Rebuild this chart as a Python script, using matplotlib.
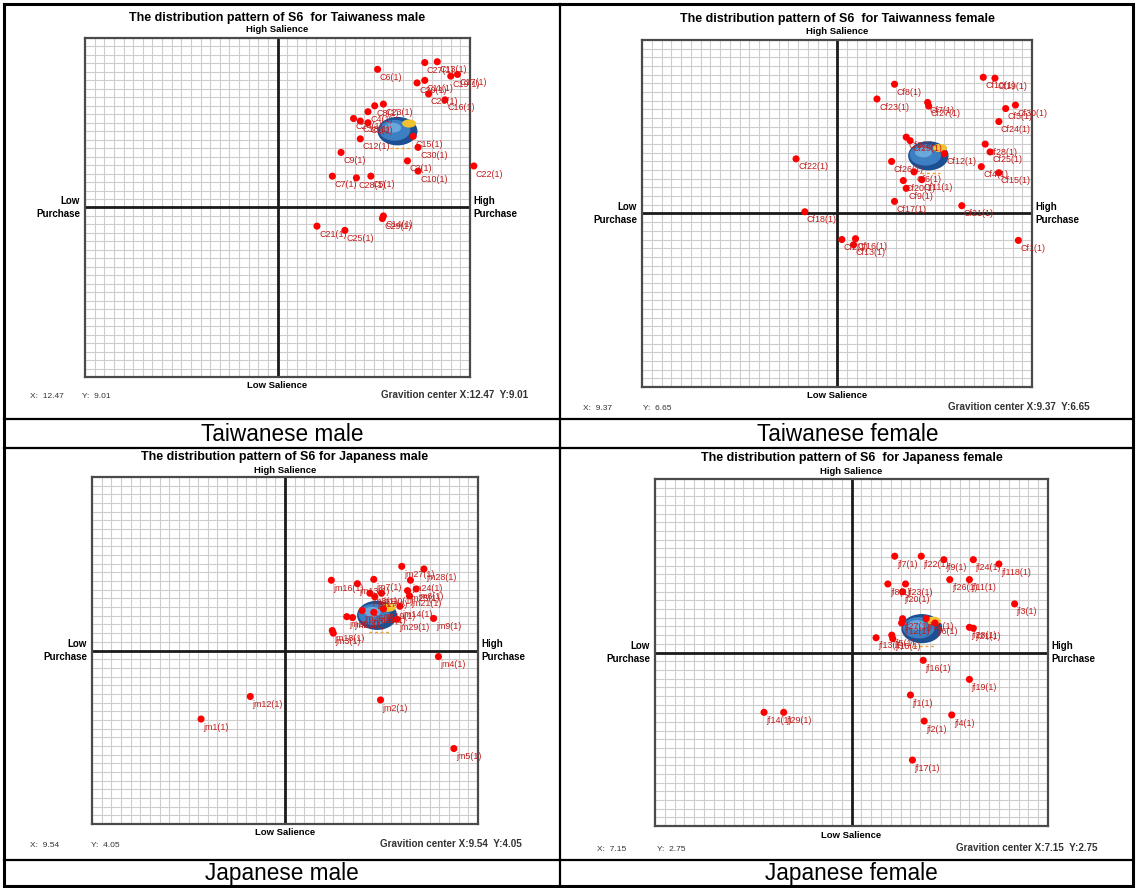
import numpy as np
import matplotlib
matplotlib.use("Agg")
import matplotlib.pyplot as plt
from matplotlib.patches import Ellipse

plt.rcParams['font.family'] = ['Liberation Sans', 'DejaVu Sans']

# ---------------- data ----------------
panel_titles = ["The distribution pattern of S6  for Taiwaness male",
                "The distribution pattern of S6  for Taiwanness female",
                "The distribution pattern of S6 for Japaness male",
                "The distribution pattern of S6  for Japaness female"]
group_names = ["Taiwanese male", "Taiwanese female", "Japanese male", "Japanese female"]
gravity_x = [12.47, 9.37, 9.54, 7.15]
gravity_y = [9.01, 6.65, 4.05, 2.75]

tm_labels = ["C6(1)", "C27(1)", "C13(1)", "C19(1)", "C17(1)", "C20(1)", "C11(1)", "C26(1)",
             "C16(1)", "C23(1)", "C8(1)", "C4(1)", "C24(1)", "C18(1)", "C1(1)", "C12(1)",
             "C15(1)", "C30(1)", "C2(1)", "C10(1)", "C9(1)", "C7(1)", "C28(1)", "C5(1)",
             "C22(1)", "C14(1)", "C29(1)", "C21(1)", "C25(1)"]
tm_x = [10.4, 15.3, 16.6, 18.0, 18.7, 14.5, 15.3, 15.7, 17.4, 11.0, 10.1, 9.4, 7.9, 8.6, 9.4,
        8.6, 14.1, 14.6, 13.5, 14.6, 6.6, 5.7, 8.2, 9.7, 20.4, 11.0, 10.9, 4.1, 7.0]
tm_y = [16.3, 17.1, 17.2, 15.5, 15.7, 14.7, 15.0, 13.4, 12.7, 12.2, 12.0, 11.3, 10.5, 10.2, 10.0,
        8.1, 8.4, 7.1, 5.5, 4.3, 6.5, 3.7, 3.5, 3.7, 4.9, -1.0, -1.3, -2.2, -2.7]

tf_labels = ["Cf10(1)", "Cf19(1)", "Cf8(1)", "Cf23(1)", "Cf7(1)", "Cf27(1)", "Cf5(1)", "Cf30(1)",
             "Cf24(1)", "Cf3(1)", "Cf29(1)", "Cf12(1)", "Cf28(1)", "Cf25(1)", "Cf4(1)", "Cf15(1)",
             "Cf22(1)", "Cf26(1)", "Cf6(1)", "Cf20(1)", "Cf11(1)", "Cf9(1)", "Cf17(1)", "Cf21(1)",
             "Cf18(1)", "Cf2(1)", "Cf16(1)", "Cf13(1)", "Cf1(1)"]
tf_x = [15.0, 16.2, 5.9, 4.1, 9.3, 9.4, 17.3, 18.3, 16.6, 7.1, 7.5, 11.0, 15.2, 15.7, 14.8, 16.6,
        -4.2, 5.6, 7.9, 6.8, 8.7, 7.1, 5.9, 12.8, -3.3, 0.5, 1.9, 1.7, 18.6]
tf_y = [15.7, 15.6, 14.9, 13.2, 12.8, 12.4, 12.1, 12.5, 10.6, 8.8, 8.4, 6.9, 8.0, 7.1, 5.4, 4.7,
        6.3, 6.0, 4.8, 3.8, 3.9, 2.9, 1.4, 0.9, 0.2, -3.0, -2.9, -3.6, -3.1]

jm_labels = ["jm27(1)", "jm28(1)", "jm24(1)", "jm6(1)", "jm16(1)", "jm13(1)", "jm7(1)", "jm10(1)",
             "jm8(1)", "jm25(1)", "jm21(1)", "jm17(1)", "jm19(1)", "jm26(1)", "jm20(1)", "jm22(1)",
             "jm11(1)", "jm14(1)", "jm9(1)", "jm29(1)", "jm18(1)", "jm3(1)", "jm4(1)", "jm12(1)",
             "jm1(1)", "jm2(1)", "jm5(1)"]
jm_x = [12.1, 14.4, 13.0, 13.6, 4.8, 7.5, 9.2, 10.0, 8.8, 12.7, 12.9, 9.3, 10.2, 8.0, 6.4, 7.0,
        9.2, 11.9, 15.4, 11.6, 4.9, 5.0, 15.9, -3.6, -8.7, 9.9, 17.5]
jm_y = [9.7, 9.4, 8.1, 7.1, 8.1, 7.7, 8.2, 6.6, 6.6, 6.9, 6.3, 6.2, 4.8, 4.6, 3.9, 3.8,
        4.4, 5.1, 3.7, 3.6, 2.3, 2.0, -0.7, -5.3, -7.9, -5.7, -11.3]

jf_labels = ["jf7(1)", "jf22(1)", "jf9(1)", "jf24(1)", "jf118(1)", "jf26(1)", "jf11(1)", "jf8(1)",
             "jf23(1)", "jf20(1)", "jf3(1)", "jf27(1)", "jf12(1)", "jf10(1)", "jf6(1)", "jf28(1)",
             "jf21(1)", "jf13(1)", "jf5(1)", "jf15(1)", "jf16(1)", "jf19(1)", "jf1(1)", "jf2(1)",
             "jf4(1)", "jf17(1)", "jf14(1)", "jf29(1)"]
jf_x = [4.4, 7.1, 9.4, 12.4, 15.0, 10.0, 12.0, 3.7, 5.5, 5.2, 16.6, 5.2, 5.1, 7.6, 8.5, 12.0,
        12.4, 2.5, 4.1, 4.2, 7.3, 12.0, 6.0, 7.4, 10.2, 6.2, -8.9, -6.9]
jf_y = [11.1, 11.1, 10.7, 10.7, 10.2, 8.4, 8.4, 7.9, 7.9, 7.0, 5.6, 3.9, 3.4, 3.9, 3.4, 2.9,
        2.8, 1.7, 2.0, 1.6, -0.9, -3.1, -4.9, -7.9, -7.2, -12.4, -6.9, -6.9]

panel_labels = [tm_labels, tf_labels, jm_labels, jf_labels]
panel_x = [tm_x, tf_x, jm_x, jf_x]
panel_y = [tm_y, tf_y, jm_y, jf_y]

# ---------------- layout (pixels) ----------------
W, H = 1136, 888
fig = plt.figure(figsize=(W / 100, H / 100), dpi=100)
bg = fig.add_axes([0, 0, 1, 1])
bg.set_xlim(0, W)
bg.set_ylim(H, 0)
bg.axis('off')

# table lines
bg.plot([4, 1133, 1133, 4, 4], [4, 4, 886, 886, 4], color='black', lw=2.2, solid_joinstyle='miter')
bg.plot([560, 560], [4, 886], color='black', lw=1.6)
for yy in (419, 448, 860):
    bg.plot([4, 1133], [yy, yy], color='black', lw=1.6)

# boxes: left, right, top, bottom
boxes = [(85, 470, 38, 377), (642, 1032, 40, 387), (92, 478, 477, 824), (655, 1048, 479, 826)]
title_y = [18, 19, 457, 458]
hs_y = [30, 32, 470, 471]
ls_y = [385, 395, 832, 835]
xy_y = [396, 408, 845, 849]
x_text_x = [30, 583, 30, 597]
y_text_x = [82, 643, 91, 657]
grav_right = [528, 1090, 522, 1098]
group_pos = [(282, 434), (848, 434), (282, 873), (851, 873)]

for i, (l, r, t, b) in enumerate(boxes):
    cx = (l + r) / 2
    cy = (t + b) / 2
    bg.text(cx, title_y[i], panel_titles[i], ha='center', va='center', fontsize=9, fontweight='bold')
    bg.text(cx, hs_y[i], "High Salience", ha='center', va='center', fontsize=6.8, fontweight='bold')
    bg.text(cx, ls_y[i], "Low Salience", ha='center', va='center', fontsize=6.8, fontweight='bold')
    bg.text(l - 5, cy, "Low\nPurchase", ha='right', va='center', fontsize=7, fontweight='bold',
            multialignment='right', linespacing=1.35)
    bg.text(r + 3, cy, "High\nPurchase", ha='left', va='center', fontsize=7, fontweight='bold',
            multialignment='left', linespacing=1.35)
    bg.text(x_text_x[i], xy_y[i], f"X:  {gravity_x[i]:.2f}", ha='left', va='center', fontsize=6,
            color='#333333')
    bg.text(y_text_x[i], xy_y[i], f"Y:  {gravity_y[i]:.2f}", ha='left', va='center', fontsize=6,
            color='#333333')
    bg.text(grav_right[i], xy_y[i] - 1.5, f"Gravition center X:{gravity_x[i]:.2f}  Y:{gravity_y[i]:.2f}",
            ha='right', va='center', fontsize=7.1, fontweight='bold', color='#333333')
    gx, gy = group_pos[i]
    bg.text(gx, gy, group_names[i], ha='center', va='center', fontsize=16.3)

    ax = fig.add_axes([l / W, 1 - b / H, (r - l) / W, (b - t) / H])
    ax.set_xlim(-20, 20)
    ax.set_ylim(-20, 20)
    ticks = np.arange(-20, 21, 1)
    ax.set_xticks(ticks)
    ax.set_yticks(ticks)
    ax.tick_params(length=0, labelbottom=False, labelleft=False)
    ax.grid(True, color='#cdcdcd', lw=0.8)
    ax.set_axisbelow(True)
    for sp in ax.spines.values():
        sp.set_color('#4a4a4a')
        sp.set_linewidth(1.6)
    ax.axhline(0, color='#1a1a1a', lw=2.0, zorder=2)
    ax.axvline(0, color='#1a1a1a', lw=2.0, zorder=2)

    # gravity center globe
    g_x, g_y = gravity_x[i], gravity_y[i]
    ax.add_patch(Ellipse((g_x, g_y), 4.0, 3.2, color='#1c4f92', zorder=3))
    ax.add_patch(Ellipse((g_x - 0.3, g_y + 0.1), 3.1, 2.3, color='#3c7fc2', zorder=3))
    ax.add_patch(Ellipse((g_x - 0.5, g_y + 0.4), 1.6, 1.0, color='#6aa8dc', zorder=3))
    ax.add_patch(Ellipse((g_x + 1.2, g_y + 0.9), 1.3, 0.8, color='#f2c230', zorder=3))
    ax.plot([g_x - 0.8, g_x + 1.2], [g_y - 1.95, g_y - 1.95], color='#f0a030', ls=(0, (2, 2)),
            lw=1, zorder=3)

    ax.scatter(panel_x[i], panel_y[i], s=26, color='#ff0000', edgecolors='none', zorder=5,
               clip_on=False)
    for lbl, px, py in zip(panel_labels[i], panel_x[i], panel_y[i]):
        ax.annotate(lbl, (px, py), xytext=(1.5, -5.8), textcoords='offset points', fontsize=6.4,
                    color='#c41a1a', ha='left', va='center', zorder=6, annotation_clip=False)

fig.savefig("out.png", dpi=100)
